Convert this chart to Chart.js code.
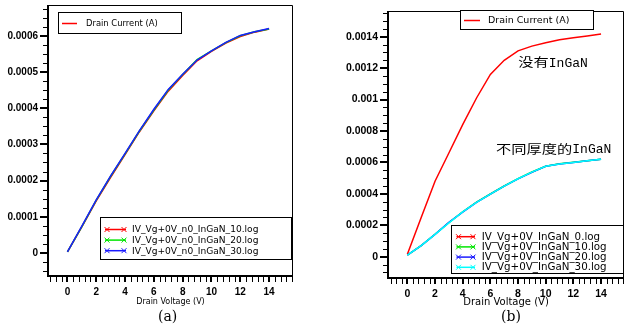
<!DOCTYPE html>
<html><head><meta charset="utf-8">
<script src="https://cdn.jsdelivr.net/npm/chart.js@4"></script>
<style>
html,body{margin:0;padding:0;background:#fff;width:627px;height:326px;overflow:hidden}
body{position:relative}
#ca{position:absolute;left:0;top:0}
#cb{position:absolute;left:313px;top:0}
.cap{position:absolute;font-family:"DejaVu Serif";font-size:14px;line-height:14px;color:#000}
</style></head><body>
<canvas id="ca" width="313" height="326"></canvas>
<canvas id="cb" width="314" height="326"></canvas>
<div class="cap" style="left:158px;top:309px">(a)</div>
<div class="cap" style="left:501px;top:309px">(b)</div>
<script>
// ---- data ----
const voltage = [0,1,2,3,4,5,6,7,8,9,10,11,12,13,14];
// chart (a)
const currentA10 = [0.000003,0.000072,0.000144,0.000209,0.000272,0.000335,0.000393,0.000447,0.00049,0.000531,0.000557,0.00058,0.000598,0.00061,0.000619];
const currentA20 = [0.000003,0.000073,0.000146,0.000212,0.000274,0.000337,0.000395,0.00045,0.000493,0.000534,0.000558,0.000581,0.0006,0.000611,0.000619];
const currentA30 = [0.000003,0.000074,0.000147,0.000213,0.000275,0.000338,0.000397,0.000452,0.000494,0.000533,0.000558,0.000582,0.000601,0.000611,0.00062];
// chart (b)
const currentB0  = [0.000015,0.00025,0.00048,0.00066,0.00084,0.00101,0.00116,0.00125,0.00131,0.00134,0.001362,0.00138,0.001393,0.001405,0.001417];
const currentB10 = [0.00001,0.000071,0.000143,0.000216,0.000286,0.000347,0.000399,0.00045,0.000497,0.000539,0.000576,0.000591,0.000601,0.00061,0.00062];
const currentB20 = [0.00001,0.00007,0.000142,0.000218,0.000284,0.000345,0.000398,0.000449,0.000495,0.000537,0.000575,0.00059,0.0006,0.00061,0.00062];
const currentB30 = [0.00001,0.00007,0.000142,0.000215,0.000285,0.000345,0.000398,0.000449,0.000496,0.000538,0.000575,0.00059,0.0006,0.00061,0.00062];

const xTicks = [0,2,4,6,8,10,12,14];
const xTickLabels = ['0','2','4','6','8','10','12','14'];
const yTicksA = [0,0.0001,0.0002,0.0003,0.0004,0.0005,0.0006];
const yTickLabelsA = ['0','0.0001','0.0002','0.0003','0.0004','0.0005','0.0006'];
const yTicksB = [0,0.0002,0.0004,0.0006,0.0008,0.001,0.0012,0.0014];
const yTickLabelsB = ['0','0.0002','0.0004','0.0006','0.0008','0.001','0.0012','0.0014'];

const xTitle = 'Drain Voltage (V)';
const yLegend = 'Drain Current (A)';
const legendA = ['IV_Vg+0V_n0_InGaN_10.log','IV_Vg+0V_n0_InGaN_20.log','IV_Vg+0V_n0_InGaN_30.log'];
const legendB = ['IV_Vg+0V_InGaN_0.log','IV_Vg+0V_InGaN_10.log','IV_Vg+0V_InGaN_20.log','IV_Vg+0V_InGaN_30.log'];

const noteCJK = ['没有','不同厚度的'];
const noteLatin = ['InGaN','InGaN'];
const noteX = [8.02, 6.41];
const noteY = [0.001235, 0.000683];

// ---- helpers ----
const RED='#ff0000', GREEN='#00e600', BLUE='#1a1aff', CYAN='#00ffff';
function pts(arr){ return voltage.map((v,i)=>({x:v,y:arr[i]})); }
function ds(arr,color,order){ return {data:pts(arr),borderColor:color,borderWidth:1.5,pointRadius:0,tension:0,fill:false,order}; }

function decor(o){
  return {id:'decor', afterDraw(chart){
    const ctx=chart.ctx, a=chart.chartArea, xs=chart.scales.x, ys=chart.scales.y;
    ctx.save();
    ctx.strokeStyle='#000';
    // x ticks
    for(let k=Math.ceil(xs.min/o.xMinor); k*o.xMinor<=xs.max+1e-9; k++){
      const v=k*o.xMinor, r=v/o.xMajor;
      const major=Math.abs(r-Math.round(r))<1e-6;
      const px=Math.round(xs.getPixelForValue(v));
      ctx.lineWidth=major?2:1;
      const off=major?0:0.5;
      ctx.beginPath(); ctx.moveTo(px+off,a.bottom); ctx.lineTo(px+off,a.bottom+6); ctx.stroke();
    }
    // y ticks
    for(let k=Math.ceil(ys.min/o.yMinor); k*o.yMinor<=ys.max*(1+1e-9); k++){
      const v=k*o.yMinor, r=v/o.yMajor;
      const major=Math.abs(r-Math.round(r))<1e-6;
      const py=Math.round(ys.getPixelForValue(v));
      ctx.lineWidth=major?2:1;
      const off=major?0:0.5;
      ctx.beginPath(); ctx.moveTo(a.left-(major?8:5),py+off); ctx.lineTo(a.left,py+off); ctx.stroke();
    }
    // frame
    ctx.lineWidth=1;
    ctx.beginPath(); ctx.moveTo(a.left,a.top+0.5); ctx.lineTo(a.right-0.5,a.top+0.5); ctx.lineTo(a.right-0.5,a.bottom); ctx.stroke();
    ctx.lineWidth=2;
    ctx.beginPath(); ctx.moveTo(a.left,a.top); ctx.lineTo(a.left,a.bottom); ctx.lineTo(a.right,a.bottom); ctx.stroke();

    // top legend (y quantity)
    const t=o.top;
    ctx.fillStyle='#fff'; ctx.fillRect(t.x,t.y,t.w,t.h);
    ctx.lineWidth=1; ctx.strokeStyle='#000'; ctx.strokeRect(t.x+0.5,t.y+0.5,t.w,t.h);
    ctx.strokeStyle=RED; ctx.lineWidth=1.5;
    ctx.beginPath(); ctx.moveTo(t.lx0,t.ly); ctx.lineTo(t.lx1,t.ly); ctx.stroke();
    ctx.fillStyle='#000'; ctx.font=t.font; ctx.textBaseline='middle'; ctx.textAlign='left';
    ctx.fillText(yLegend,t.tx,t.ly+0.5);

    // bottom legend (series)
    const b=o.bot;
    ctx.fillStyle='#fff'; ctx.fillRect(b.x,b.y,b.w,b.h);
    ctx.lineWidth=1; ctx.strokeStyle='#000'; ctx.strokeRect(b.x+0.5,b.y+0.5,b.w,b.h);
    ctx.font=b.font;
    b.labels.forEach((lab,i)=>{
      const y=b.y0+i*b.dy, c=b.colors[i];
      ctx.strokeStyle=c; ctx.lineWidth=1.5;
      ctx.beginPath(); ctx.moveTo(b.lx0,y); ctx.lineTo(b.lx1,y); ctx.stroke();
      ctx.lineWidth=1;
      [b.lx0+2,b.lx1-2].forEach(cx=>{
        ctx.beginPath(); ctx.moveTo(cx-2.5,y-2.5); ctx.lineTo(cx+2.5,y+2.5);
        ctx.moveTo(cx-2.5,y+2.5); ctx.lineTo(cx+2.5,y-2.5); ctx.stroke();
      });
      ctx.fillStyle='#000'; ctx.textBaseline='middle';
      ctx.fillText(lab,b.tx,y+0.5);
    });

    // notes
    if(o.notes){
      noteCJK.forEach((txt,i)=>{
        const px=xs.getPixelForValue(noteX[i]), py=ys.getPixelForValue(noteY[i]);
        ctx.save();
        ctx.fillStyle='#000'; ctx.textBaseline='middle'; ctx.textAlign='left';
        ctx.font='12.5px "Noto Sans CJK SC"';
        const w=ctx.measureText(txt).width*1.22;
        ctx.translate(px,py); ctx.scale(1.22,1);
        ctx.fillText(txt,0,0);
        ctx.restore();
        ctx.save();
        ctx.fillStyle='#000'; ctx.textBaseline='middle'; ctx.textAlign='left';
        ctx.font='13px "Liberation Mono"';
        ctx.fillText(noteLatin[i],px+w,py+0.5);
        ctx.restore();
      });
    }
    ctx.restore();
  }};
}

function makeChart(id,datasets,o){
  const el=document.getElementById(id);
  const W=el.width,H=el.height;
  return new Chart(el,{
    type:'line',
    data:{datasets},
    options:{
      responsive:false, animation:false, devicePixelRatio:1,
      layout:{padding:{left:0,top:o.area.top,right:W-o.area.right,bottom:0}},
      plugins:{legend:{display:false},tooltip:{enabled:false}},
      scales:{
        x:{type:'linear',min:o.xmin,max:o.xmax,
           afterBuildTicks:s=>{s.ticks=xTicks.map(v=>({value:v}));},
           afterFit:s=>{s.height=H-o.area.bottom;s.paddingLeft=0;s.paddingRight=0;s.paddingTop=0;s.paddingBottom=0;},
           grid:{display:false,drawTicks:false},border:{display:false},
           ticks:{autoSkip:false,maxRotation:0,padding:o.xpad,color:'#000',
                  font:{family:'"Liberation Sans"',weight:'bold',size:o.tickSize},
                  callback:(v,i)=>xTickLabels[i]},
           title:{display:true,text:xTitle,color:'#000',
                  font:{family:'"DejaVu Sans"',size:o.titleSize},
                  padding:{top:0,bottom:o.titlePad}}},
        y:{type:'linear',min:o.ymin,max:o.ymax,
           afterBuildTicks:s=>{s.ticks=o.yTicks.map(v=>({value:v}));},
           afterFit:s=>{s.width=o.area.left;s.paddingLeft=0;s.paddingRight=0;s.paddingTop=0;s.paddingBottom=0;},
           grid:{display:false,drawTicks:false},border:{display:false},
           ticks:{autoSkip:false,padding:o.ypad,color:'#000',
                  font:{family:'"Liberation Sans"',weight:'bold',size:o.tickSize},
                  callback:(v,i)=>o.yLabels[i]}}
      }
    },
    plugins:[decor(o)]
  });
}

makeChart('ca',[ds(currentA10,RED,3),ds(currentA20,GREEN,2),ds(currentA30,BLUE,1)],{
  area:{left:48,top:5,right:293,bottom:276},
  xmin:-1.35,xmax:15.66,ymin:-0.0000635,ymax:0.000685,
  yTicks:yTicksA,yLabels:yTickLabelsA,
  xMinor:0.4,xMajor:2,yMinor:0.000025,yMajor:0.0001,
  tickSize:10,titleSize:8,titlePad:19.5,xpad:10,ypad:10,
  top:{x:58,y:12,w:123,h:21,lx0:62,lx1:77,ly:23.5,tx:86,font:'8.4px "DejaVu Sans"'},
  bot:{x:100,y:217,w:191,h:42,y0:229.5,dy:10.6,lx0:105,lx1:126,tx:132,
       font:'9.1px "DejaVu Sans"',labels:legendA,colors:[RED,GREEN,BLUE]},
  notes:false
});

makeChart('cb',[ds(currentB0,RED,4),ds(currentB10,GREEN,3),ds(currentB20,BLUE,2),ds(currentB30,CYAN,1)],{
  area:{left:75,top:11,right:311,bottom:278},
  xmin:-1.4,xmax:15.66,ymin:-0.0001356,ymax:0.0015636,
  yTicks:yTicksB,yLabels:yTickLabelsB,
  xMinor:0.4,xMajor:2,yMinor:0.00005,yMajor:0.0002,
  tickSize:10.5,titleSize:10,titlePad:18,xpad:10,ypad:10,
  top:{x:147,y:10,w:133,h:19,lx0:151,lx1:167,ly:20.5,tx:175,font:'9.5px "DejaVu Sans"'},
  bot:{x:138,y:225,w:172,h:48,y0:236.7,dy:10.2,lx0:143.5,lx1:162,tx:168.7,
       font:'10.3px "DejaVu Sans"',labels:legendB,colors:[RED,GREEN,BLUE,CYAN]},
  notes:true
});
</script>
</body></html>
